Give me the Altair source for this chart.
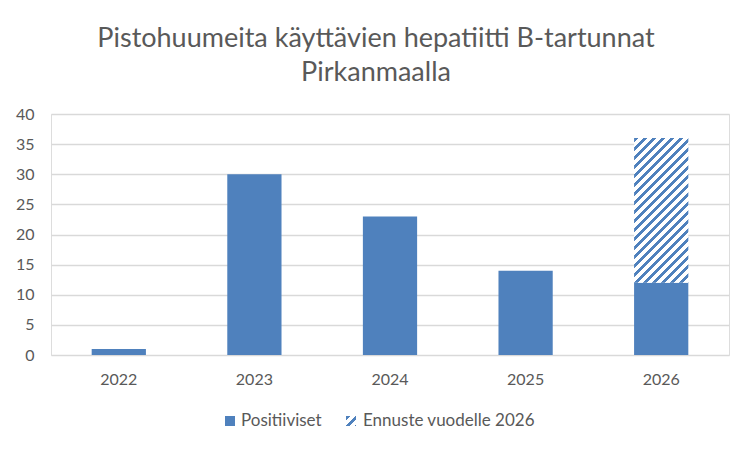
import altair as alt
import pandas as pd

# ---- data ----
years = ["2022", "2023", "2024", "2025", "2026"]
positives = [1, 30, 23, 14, 12]
forecast_total = [None, None, None, None, 36]
series_names = ["Positiiviset", "Ennuste vuodelle 2026"]
title_lines = ["Pistohuumeita käyttävien hepatiitti B-tartunnat", "Pirkanmaalla"]
y_ticks = [0, 5, 10, 15, 20, 25, 30, 35, 40]

# ---- style ----
BLUE = "#4f81bd"
GRAY_TEXT = "#595959"
GRID = "#d9d9d9"
FONT = "Lato"
W, H = 678, 241
YMAX = 40
PAD_INNER, PAD_OUTER = 0.6, 0.3

df = pd.DataFrame({"year": years, "positives": positives, "forecast_total": forecast_total})
fc = df.dropna(subset=["forecast_total"]).copy()


def hatch(w, h, period=9.0, frac=0.45):
    """Linear gradient with hard stops that draws '/' stripes in a w x h box."""
    k = (w + h) / (w * w + h * h)
    x2, y2 = k * w, k * h
    p = period / (w + h)
    stops = []
    t = 0.0
    while t < 1.0:
        a = min(t + frac * p, 1.0)
        b = min(t + p, 1.0)
        stops += [
            {"offset": round(t, 5), "color": BLUE},
            {"offset": round(a, 5), "color": BLUE},
            {"offset": round(a, 5), "color": "white"},
            {"offset": round(b, 5), "color": "white"},
        ]
        t += p
    return {"gradient": "linear", "x1": 0, "y1": 0, "x2": round(x2, 5), "y2": round(y2, 5), "stops": stops}


step = W / (len(years) - PAD_INNER + 2 * PAD_OUTER)
bar_w = step * (1 - PAD_INNER)
fc_h = (fc["forecast_total"].iloc[0] - fc["positives"].iloc[0]) * H / YMAX

x_axis = alt.Axis(labelAngle=0, ticks=False, domain=False, labelPadding=16,
                  labelFont=FONT, labelFontSize=16, labelColor=GRAY_TEXT, grid=False)
x_scale = alt.Scale(paddingInner=PAD_INNER, paddingOuter=PAD_OUTER)
y_scale = alt.Scale(domain=[0, YMAX], nice=False)
y_axis = alt.Axis(values=y_ticks, tickCount=len(y_ticks), labelOverlap=False,
                  ticks=False, domain=False, labelPadding=17,
                  labelFont=FONT, labelFontSize=16, labelColor=GRAY_TEXT,
                  grid=True, gridColor=GRID, gridWidth=1.4)

bars = alt.Chart(df).mark_bar(color=BLUE).encode(
    x=alt.X("year:N", title=None, scale=x_scale, axis=x_axis),
    y=alt.Y("positives:Q", title=None, scale=y_scale, axis=y_axis),
)

forecast = alt.Chart(fc).mark_bar(fill=hatch(bar_w, fc_h)).encode(
    x=alt.X("year:N", title=None, scale=x_scale, axis=x_axis),
    y=alt.Y("positives:Q", title=None, scale=y_scale, axis=y_axis),
    y2=alt.Y2("forecast_total:Q"),
)

# ---- legend (drawn by hand so the hatch can be shown) ----
leg1 = pd.DataFrame({"label": [series_names[0]]})
leg2 = pd.DataFrame({"label": [series_names[1]]})
LY = 307
sym1 = alt.Chart(leg1).mark_rect(color=BLUE).encode(
    x=alt.value(174), x2=alt.value(184), y=alt.value(LY - 5), y2=alt.value(LY + 5))
txt1 = alt.Chart(leg1).mark_text(align="left", baseline="middle", font=FONT, fontSize=17,
                                 color=GRAY_TEXT).encode(
    x=alt.value(190), y=alt.value(LY), text=alt.Text("label:N"))
sym2 = alt.Chart(leg2).mark_rect(fill=hatch(10, 10, period=9.0, frac=0.45)).encode(
    x=alt.value(295), x2=alt.value(305), y=alt.value(LY - 5), y2=alt.value(LY + 5))
txt2 = alt.Chart(leg2).mark_text(align="left", baseline="middle", font=FONT, fontSize=17,
                                 color=GRAY_TEXT).encode(
    x=alt.value(312), y=alt.value(LY), text=alt.Text("label:N"))

chart = alt.layer(bars, forecast, sym1, txt1, sym2, txt2).properties(
    width=W,
    height=H,
    autosize=alt.AutoSizeParams(type="none"),
    padding={"left": 43, "top": 106, "right": 15, "bottom": 85},
    title=alt.TitleParams(text=title_lines, font=FONT, fontSize=27, fontWeight="normal",
                          color=GRAY_TEXT, anchor="middle", dx=-14, offset=19, lineHeight=34),
).configure_view(stroke=None).configure(background="white")

chart.save("out.html", embed_options={"renderer": "svg", "actions": False})
